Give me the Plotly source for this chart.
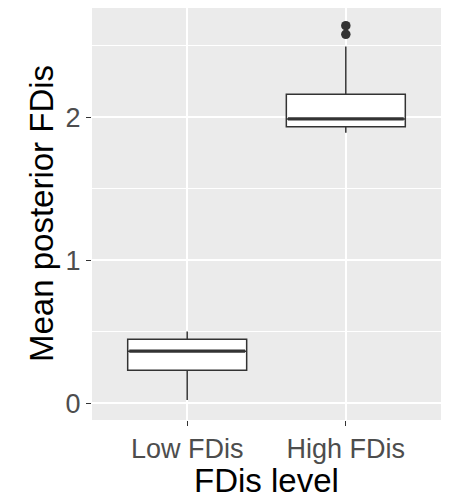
import plotly.graph_objects as go

categories = ["Low FDis", "High FDis"]
positions = [1, 2]
q1 = [0.231, 1.934]
median = [0.364, 1.988]
q3 = [0.448, 2.161]
lower_whisker = [0.023, 1.892]
upper_whisker = [0.501, 2.494]
outlier_cat = [2, 2]
outlier_vals = [2.640, 2.580]
y_ticks = [0, 1, 2]

BOX_W = 0.75
LINE = "#333333"

fig = go.Figure()
for i, cat in enumerate(categories):
    fig.add_trace(go.Box(
        x=[positions[i]], q1=[q1[i]], median=[median[i]], q3=[q3[i]],
        lowerfence=[lower_whisker[i]], upperfence=[upper_whisker[i]],
        width=BOX_W, fillcolor="white", line=dict(color=LINE, width=1.5),
        whiskerwidth=0, boxpoints=False, name=cat, showlegend=False,
        hoverinfo="skip"))
    fig.add_trace(go.Scatter(
        x=[positions[i] - BOX_W / 2 + 0.01, positions[i] + BOX_W / 2 - 0.01],
        y=[median[i], median[i]], mode="lines",
        line=dict(color=LINE, width=3.2), showlegend=False, hoverinfo="skip"))

fig.add_trace(go.Scatter(
    x=outlier_cat, y=outlier_vals, mode="markers",
    marker=dict(color=LINE, size=9.5), showlegend=False, hoverinfo="skip"))

fig.update_layout(
    width=454, height=498,
    margin=dict(l=92, r=13, t=8, b=78),
    paper_bgcolor="white", plot_bgcolor="#EBEBEB",
    font=dict(family="Liberation Sans, Arial, sans-serif"),
    xaxis=dict(
        range=[0.4, 2.6], tickvals=positions, ticktext=categories,
        showgrid=True, gridcolor="white", gridwidth=1.5, zeroline=False,
        ticks="outside", ticklen=5, tickwidth=1.2, tickcolor=LINE,
        tickfont=dict(size=27, color="#4D4D4D"),
        showline=False,
    ),
    yaxis=dict(
        range=[-0.117, 2.764], tickvals=y_ticks,
        showgrid=True, gridcolor="white", gridwidth=1.5, zeroline=False,
        ticks="outside", ticklen=5, tickwidth=1.2, tickcolor=LINE,
        tickfont=dict(size=27, color="#4D4D4D"),
        minor=dict(dtick=0.5, showgrid=True, gridcolor="white", gridwidth=0.9, ticks=""),
        showline=False,
    ),
    annotations=[
        dict(text="FDis level", xref="paper", yref="paper", x=0.5, y=0,
             yshift=-60, xanchor="center", yanchor="middle", showarrow=False,
             font=dict(size=33, color="black")),
        dict(text="Mean posterior FDis", xref="paper", yref="paper", x=0, y=0.5,
             xshift=-51, xanchor="center", yanchor="middle", textangle=-90,
             showarrow=False, font=dict(size=33, color="black")),
    ],
)

fig.write_html("out.html", config={"displayModeBar": False})
